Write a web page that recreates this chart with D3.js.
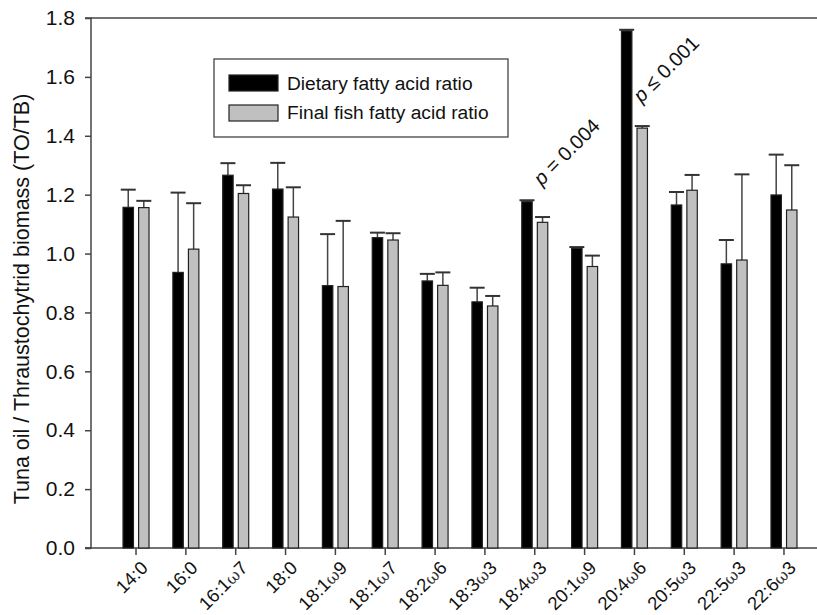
<!DOCTYPE html>
<html>
<head>
<meta charset="utf-8">
<script src="https://cdn.jsdelivr.net/npm/d3@7"></script>
<style>
  body { margin: 0; background: #fff; }
  svg { display: block; font-family: "Liberation Sans", Arial, sans-serif; }
</style>
</head>
<body>
<div id="chart"></div>
<script>
// fatty acids on the x axis (ω part drawn in a serif face)
const acids = ['14:0', '16:0', '16:1ω7', '18:0', '18:1ω9', '18:1ω7', '18:2ω6',
  '18:3ω3', '18:4ω3', '20:1ω9', '20:4ω6', '20:5ω3', '22:5ω3', '22:6ω3'];

const seriesNames = ['Dietary fatty acid ratio', 'Final fish fatty acid ratio'];

// TO/TB ratios
const dietMean = [1.157, 0.936, 1.266, 1.219, 0.891, 1.054, 0.907, 0.836, 1.176, 1.018, 1.756, 1.165, 0.965, 1.199];
const dietErr  = [0.060, 0.271, 0.041, 0.089, 0.175, 0.017, 0.024, 0.048, 0.005, 0.004, 0.004, 0.044, 0.081, 0.137];
const fishMean = [1.156, 1.015, 1.204, 1.124, 0.888, 1.046, 0.892, 0.822, 1.106, 0.956, 1.426, 1.215, 0.978, 1.148];
const fishErr  = [0.023, 0.156, 0.028, 0.101, 0.223, 0.023, 0.044, 0.034, 0.018, 0.037, 0.007, 0.052, 0.291, 0.152];

const yTicks = [0, 0.2, 0.4, 0.6, 0.8, 1.0, 1.2, 1.4, 1.6, 1.8];

// significance notes
const notes = [
  { acid: '18:4ω3', pre: '= 0.004', at: 1.228 },
  { acid: '20:4ω6', pre: '≤ 0.001', at: 1.51 }
];

const W = 817, H = 615;
const mLeft = 91, mTop = 18, mBottom = 548;

const svg = d3.select('#chart').append('svg')
  .attr('width', W).attr('height', H)
  .style('background', '#fff');

const y = d3.scaleLinear().domain([0, 1.8]).range([mBottom, mTop]);
const x = d3.scaleBand().domain(acids).range([111.1, 808.9]).padding(0);
const xs = d3.scaleBand().domain(seriesNames).range([-13, 13]).paddingInner(0.33);

const rows = acids.map((a, i) => ({
  acid: a,
  vals: [
    { s: seriesNames[0], v: dietMean[i], e: dietErr[i] },
    { s: seriesNames[1], v: fishMean[i], e: fishErr[i] }
  ]
}));

// frame line on top (runs off to the right edge)
svg.append('line')
  .attr('x1', mLeft).attr('x2', W).attr('y1', mTop).attr('y2', mTop)
  .attr('stroke', '#444').attr('stroke-width', 1.5);

// y axis
const yAxis = svg.append('g')
  .attr('transform', `translate(${mLeft},0)`)
  .call(d3.axisLeft(y).tickValues(yTicks).tickFormat(d3.format('.1f')).tickSize(6).tickPadding(10));
yAxis.select('.domain').attr('stroke', '#444').attr('stroke-width', 1.5)
  .attr('d', `M-6,${mBottom}H0V${mTop}H-6`);
yAxis.selectAll('.tick line').attr('stroke', '#444').attr('stroke-width', 1.5);
yAxis.selectAll('.tick text')
  .attr('fill', '#111')
  .style('font-size', '21px')
  .style('font-family', '"Liberation Sans", Arial, sans-serif');

// x axis
const xAxis = svg.append('g')
  .attr('transform', `translate(0,${mBottom})`)
  .call(d3.axisBottom(x).tickSize(7).tickFormat(''));
xAxis.select('.domain').attr('stroke', '#444').attr('stroke-width', 1.5)
  .attr('d', `M${mLeft - 6},0H${W}`);
xAxis.selectAll('.tick line').attr('stroke', '#444').attr('stroke-width', 1.5);

// rotated x labels, ω in serif
xAxis.selectAll('.tick').each(function(d) {
  const t = d3.select(this).append('text')
    .attr('transform', 'translate(13,21) rotate(-45)')
    .attr('text-anchor', 'end')
    .attr('fill', '#111')
    .style('font-size', '18.5px')
    .style('font-family', '"Liberation Sans", Arial, sans-serif');
  const k = d.indexOf('ω');
  if (k < 0) {
    t.text(d);
  } else {
    t.append('tspan').text(d.slice(0, k));
    t.append('tspan').text('ω').style('font-family', '"DejaVu Serif", "Liberation Serif", serif')
      .style('font-size', '16.5px').attr('fill', '#333');
    t.append('tspan').text(d.slice(k + 1));
  }
});

// bars
const grp = svg.append('g').selectAll('g')
  .data(rows).enter().append('g')
  .attr('transform', d => `translate(${x(d.acid) + x.bandwidth() / 2},0)`);

// error bars (upper only)
grp.selectAll('line.err')
  .data(d => d.vals).enter().append('line')
  .attr('class', 'err')
  .attr('x1', d => xs(d.s) + xs.bandwidth() / 2)
  .attr('x2', d => xs(d.s) + xs.bandwidth() / 2)
  .attr('y1', d => y(d.v))
  .attr('y2', d => y(d.v + d.e))
  .attr('stroke', '#444').attr('stroke-width', 1.5);

grp.selectAll('line.cap')
  .data(d => d.vals).enter().append('line')
  .attr('class', 'cap')
  .attr('x1', d => xs(d.s) + xs.bandwidth() / 2 - 7.5)
  .attr('x2', d => xs(d.s) + xs.bandwidth() / 2 + 7.5)
  .attr('y1', d => y(d.v + d.e))
  .attr('y2', d => y(d.v + d.e))
  .attr('stroke', '#333').attr('stroke-width', 2);

grp.selectAll('rect')
  .data(d => d.vals).enter().append('rect')
  .attr('x', d => xs(d.s))
  .attr('width', xs.bandwidth())
  .attr('y', d => y(d.v))
  .attr('height', d => y(0) - y(d.v))
  .attr('fill', d => d.s === seriesNames[0] ? '#000' : '#c0c0c0')
  .attr('stroke', '#222')
  .attr('stroke-width', 1.2);

// p-value notes
notes.forEach(n => {
  const t = svg.append('text')
    .attr('transform', `translate(${x(n.acid) + x.bandwidth() / 2 + 7},${y(n.at)}) rotate(-45)`)
    .attr('fill', '#111')
    .style('font-size', '20px');
  t.append('tspan').text('p ')
    .style('font-style', 'italic');
  t.append('tspan').text(n.pre);
});

// legend
const lg = svg.append('g').attr('transform', 'translate(214,59)');
lg.append('rect')
  .attr('width', 294).attr('height', 78)
  .attr('fill', '#fff').attr('stroke', '#444').attr('stroke-width', 1.3);
seriesNames.forEach((s, i) => {
  lg.append('rect')
    .attr('x', 15).attr('y', 16 + i * 30)
    .attr('width', 49).attr('height', 16)
    .attr('fill', i === 0 ? '#000' : '#c0c0c0')
    .attr('stroke', '#222').attr('stroke-width', 1.2);
  lg.append('text')
    .attr('x', 73).attr('y', 30.5 + i * 29.5)
    .attr('fill', '#111')
    .style('font-size', '19.2px')
    .text(s);
});

// y title
svg.append('text')
  .attr('transform', `translate(29,${(mTop + mBottom) / 2 + 16}) rotate(-90)`)
  .attr('text-anchor', 'middle')
  .attr('fill', '#111')
  .style('font-size', '21.5px')
  .text('Tuna oil / Thraustochytrid biomass (TO/TB)');
</script>
</body>
</html>
